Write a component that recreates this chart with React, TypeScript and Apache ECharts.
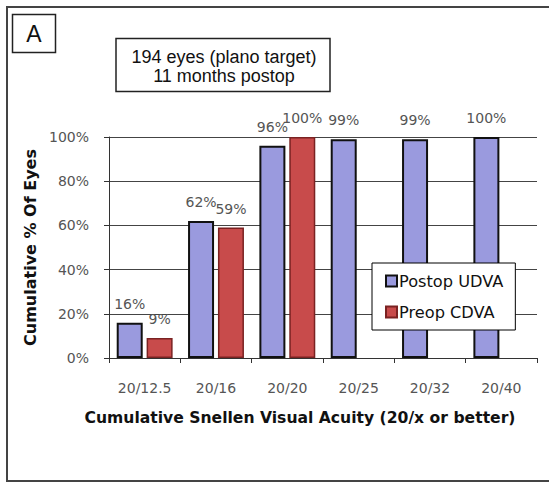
import React, { useEffect, useRef } from "react";
import * as echarts from "echarts";

const categories = ["20/12.5", "20/16", "20/20", "20/25", "20/32", "20/40"];
const postopUDVA = [16, 62, 96, 99, 99, 100];
const preopCDVA: (number | null)[] = [9, 59, 100, null, null, null];
const yTicks = [0, 20, 40, 60, 80, 100];
const seriesNames = ["Postop UDVA", "Preop CDVA"];
const annotationLines = ["194 eyes (plano target)", "11 months postop"];
const panelLetter = "A";

export default function App() {
  const ref = useRef<HTMLDivElement>(null);
  useEffect(() => {
    if (!ref.current) return;
    const chart = echarts.init(ref.current, undefined, { renderer: "svg" });
    const labelStyle = {
      show: true,
      position: "top" as const,
      distance: 12,
      color: "#555",
      fontFamily: "DejaVu Sans",
      fontSize: 14,
      formatter: (p: any) => `${p.value}%`,
    };
    chart.setOption({
      animation: false,
      backgroundColor: "#fff",
      grid: { left: 109, right: 12, top: 137, bottom: 125, containLabel: false },
      legend: {
        data: seriesNames,
        orient: "vertical",
        left: 372,
        top: 263,
        itemWidth: 11,
        itemHeight: 11,
        itemGap: 15,
        padding: [10, 12, 10, 13],
        borderColor: "#000",
        borderWidth: 1,
        backgroundColor: "#fff",
        icon: "rect",
        textStyle: { fontFamily: "DejaVu Sans", fontSize: 16.2, color: "#111", padding: [0, 0, 0, -3] },
      },
      xAxis: {
        type: "category",
        data: categories,
        name: "Cumulative Snellen Visual Acuity (20/x or better)",
        nameLocation: "middle",
        nameGap: 52,
        nameTextStyle: { fontFamily: "DejaVu Sans", fontWeight: "bold", fontSize: 15.6, color: "#111", padding: [0, 46, 0, 0] },
        axisLine: { lineStyle: { color: "#333", width: 1 } },
        axisTick: { show: true, alignWithLabel: false, length: 5, lineStyle: { color: "#333" } },
        axisLabel: { color: "#555", fontFamily: "DejaVu Sans", fontSize: 14, margin: 23 },
      },
      yAxis: {
        type: "value",
        min: 0,
        max: 100,
        interval: 20,
        name: "Cumulative % Of Eyes",
        nameLocation: "middle",
        nameGap: 70,
        nameRotate: 90,
        nameTextStyle: { fontFamily: "DejaVu Sans", fontWeight: "bold", fontSize: 16, color: "#111" },
        axisLine: { show: true, lineStyle: { color: "#333", width: 1 } },
        axisTick: { show: true, length: 5, lineStyle: { color: "#333" } },
        axisLabel: {
          color: "#555",
          fontFamily: "DejaVu Sans",
          fontSize: 14,
          margin: 20,
          formatter: (v: number) => (yTicks.includes(v) ? `${v}%` : ""),
        },
        splitLine: { show: true, lineStyle: { color: "#444", width: 1 } },
      },
      series: [
        {
          name: seriesNames[0],
          type: "bar",
          data: postopUDVA,
          barWidth: 26,
          barGap: "15%",
          itemStyle: { color: "#9a9ade", borderColor: "#111", borderWidth: 2 },
          label: labelStyle,
        },
        {
          name: seriesNames[1],
          type: "bar",
          data: preopCDVA,
          barWidth: 26,
          itemStyle: { color: "#c84b4b", borderColor: "#7a2222", borderWidth: 1.5 },
          label: labelStyle,
        },
      ],
      graphic: [
        {
          type: "rect",
          shape: { x: 7, y: 7, width: 560, height: 474 },
          style: { fill: "none", stroke: "#444", lineWidth: 2 },
          silent: true,
        },
        {
          type: "rect",
          shape: { x: 12.5, y: 14.5, width: 43, height: 38 },
          style: { fill: "none", stroke: "#222", lineWidth: 1.5 },
        },
        {
          type: "text",
          x: 34,
          y: 34,
          style: {
            text: panelLetter,
            fontFamily: "Liberation Sans",
            fontSize: 23,
            fill: "#111",
            align: "center",
            verticalAlign: "middle",
          },
        },
        {
          type: "rect",
          shape: { x: 116, y: 38.5, width: 214, height: 53 },
          style: { fill: "#fff", stroke: "#222", lineWidth: 1.5 },
        },
        {
          type: "text",
          x: 224,
          y: 57,
          style: {
            text: annotationLines[0],
            fontFamily: "Liberation Sans",
            fontSize: 18,
            fill: "#111",
            align: "center",
            verticalAlign: "middle",
          },
        },
        {
          type: "text",
          x: 224,
          y: 76,
          style: {
            text: annotationLines[1],
            fontFamily: "Liberation Sans",
            fontSize: 18,
            fill: "#111",
            align: "center",
            verticalAlign: "middle",
          },
        },
      ],
    });
    return () => chart.dispose();
  }, []);
  return (
    <div
      ref={ref}
      style={{ position: "fixed", left: 0, top: 0, width: 549, height: 483 }}
    />
  );
}
